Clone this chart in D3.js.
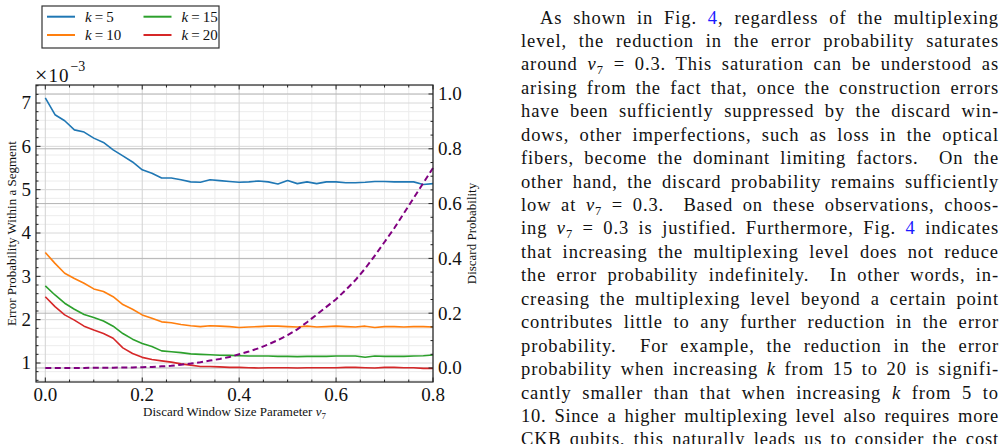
<!DOCTYPE html>
<html>
<head>
<meta charset="utf-8">
<script src="https://cdn.jsdelivr.net/npm/d3@7"></script>
<style>
  html, body { margin:0; padding:0; background:#fff; width:1005px; height:444px; overflow:hidden; }
  #chart { position:absolute; left:0; top:0; }
  #para { position:absolute; left:521px; top:6.5px; width:478px; font-family:"Liberation Serif", serif; font-size:18.5px; line-height:23.45px; color:#111; }
  #para div { text-align:justify; text-align-last:justify; white-space:nowrap; height:23.45px; }
  #para .first { text-indent:19px; }
  #para i { font-style:italic; }
  #para sub { font-size:12.5px; vertical-align:baseline; position:relative; top:4px; line-height:0; }
  #para .ref { color:#1a1aff; }
  #measure { position:absolute; left:0; top:500px; visibility:hidden; white-space:nowrap; font-family:"Liberation Serif", serif; font-size:18.5px; }
  #measure sub { font-size:12.5px; vertical-align:baseline; }
</style>
</head>
<body>
<svg id="chart" width="500" height="444"></svg>
<div id="para"></div>
<span id="measure"></span>
<script>
// ---- data (error probability values in units of 1e-3) ----
const xValues = [0.00,0.02,0.04,0.06,0.08,0.10,0.12,0.14,0.16,0.18,0.20,0.22,0.24,0.26,0.28,0.30,0.32,0.34,0.36,0.38,0.40,0.42,0.44,0.46,0.48,0.50,0.52,0.54,0.56,0.58,0.60,0.62,0.64,0.66,0.68,0.70,0.72,0.74,0.76,0.78,0.80];
const seriesLabels = ["k = 5", "k = 10", "k = 15", "k = 20"];
const errK5  = [7.12,6.73,6.59,6.38,6.33,6.19,6.09,5.92,5.78,5.64,5.46,5.38,5.27,5.27,5.23,5.18,5.17,5.23,5.21,5.19,5.17,5.18,5.20,5.18,5.13,5.21,5.14,5.18,5.14,5.18,5.18,5.16,5.16,5.17,5.19,5.19,5.18,5.18,5.18,5.12,5.14];
const errK10 = [3.55,3.30,3.07,2.95,2.84,2.71,2.65,2.53,2.35,2.24,2.11,2.03,1.95,1.93,1.89,1.86,1.84,1.86,1.85,1.84,1.82,1.83,1.84,1.85,1.85,1.84,1.83,1.85,1.83,1.84,1.85,1.84,1.83,1.85,1.82,1.84,1.84,1.83,1.84,1.84,1.83];
const errK15 = [2.78,2.57,2.38,2.24,2.12,2.05,1.97,1.85,1.68,1.55,1.45,1.38,1.28,1.26,1.24,1.21,1.20,1.19,1.18,1.177,1.169,1.162,1.162,1.162,1.154,1.154,1.146,1.154,1.154,1.154,1.162,1.162,1.162,1.131,1.162,1.154,1.154,1.154,1.162,1.169,1.185];
const errK20 = [2.53,2.30,2.11,1.99,1.85,1.76,1.68,1.57,1.35,1.22,1.13,1.08,1.05,1.02,0.98,0.95,0.92,0.92,0.91,0.90,0.90,0.892,0.885,0.892,0.892,0.892,0.885,0.892,0.892,0.892,0.892,0.900,0.900,0.892,0.885,0.900,0.900,0.892,0.892,0.877,0.877];
const discardProb = [0.000,0.000,0.000,0.000,0.000,0.001,0.001,0.001,0.002,0.002,0.003,0.004,0.006,0.008,0.012,0.016,0.021,0.027,0.033,0.040,0.050,0.060,0.072,0.086,0.102,0.120,0.141,0.167,0.195,0.223,0.251,0.285,0.321,0.363,0.410,0.460,0.510,0.565,0.620,0.675,0.730];
const seriesColors = ["#1f77b4","#ff7f0e","#2ca02c","#d62728"];
const xTicks = [0.0,0.2,0.4,0.6,0.8];
const yLeftTicks = [1,2,3,4,5,6,7];
const yRightTicks = [0.0,0.2,0.4,0.6,0.8,1.0];

const series = [errK5, errK10, errK15, errK20];

// ---- layout ----
const L = 36, R = 433, T = 85, B = 382;
const svg = d3.select("#chart");
const font = "'Liberation Serif', 'Times New Roman', serif";

const x = d3.scaleLinear().domain([-0.0192, 0.8]).range([L, R]);
const yL = d3.scaleLinear().domain([0.5615, 7.416]).range([B, T]);
const yR = d3.scaleLinear().domain([-0.0511, 1.0328]).range([B, T]);

const xMinor = d3.range(0, 0.8001, 0.05).filter(v => Math.abs(v*5 - Math.round(v*5)) > 1e-6);
const yLMinor = d3.range(0.6, 7.41, 0.2).filter(v => Math.abs(v - Math.round(v)) > 1e-6);
const yRMinor = d3.range(0, 1.031, 0.05).filter(v => Math.abs(v*5 - Math.round(v*5)) > 1e-6);

const g = svg.append("g");

// minor grids
g.selectAll(".gxm").data(xMinor).join("line")
  .attr("x1", d => x(d)).attr("x2", d => x(d)).attr("y1", T).attr("y2", B)
  .attr("stroke", "#ececec").attr("stroke-width", 1);
g.selectAll(".gylm").data(yLMinor).join("line")
  .attr("x1", L).attr("x2", R).attr("y1", d => yL(d)).attr("y2", d => yL(d))
  .attr("stroke", "#ececec").attr("stroke-width", 1);
// major grids
g.selectAll(".gx").data(xTicks).join("line")
  .attr("x1", d => x(d)).attr("x2", d => x(d)).attr("y1", T).attr("y2", B)
  .attr("stroke", "#d2d2d2").attr("stroke-width", 1);
g.selectAll(".gyl").data(yLeftTicks).join("line")
  .attr("x1", L).attr("x2", R).attr("y1", d => yL(d)).attr("y2", d => yL(d))
  .attr("stroke", "#d8d8d8").attr("stroke-width", 1);
g.selectAll(".gyr").data(yRightTicks).join("line")
  .attr("x1", L).attr("x2", R).attr("y1", d => yR(d)).attr("y2", d => yR(d))
  .attr("stroke", "#b4b4b4").attr("stroke-width", 1);

// series lines
const lineL = d3.line().x((d, i) => x(xValues[i])).y(d => yL(d));
series.forEach((s, k) => {
  g.append("path").datum(s).attr("d", lineL)
    .attr("fill", "none").attr("stroke", seriesColors[k]).attr("stroke-width", 1.6)
    .attr("stroke-linejoin", "round");
});
const lineR = d3.line().x((d, i) => x(xValues[i])).y(d => yR(d));
g.append("path").datum(discardProb).attr("d", lineR)
  .attr("fill", "none").attr("stroke", "#800080").attr("stroke-width", 2)
  .attr("stroke-dasharray", "6,3.5");

// frame
g.append("rect").attr("x", L).attr("y", T).attr("width", R - L).attr("height", B - T)
  .attr("fill", "none").attr("stroke", "#222").attr("stroke-width", 1.2);

// ticks (inward)
const tk = g.append("g").attr("stroke", "#222").attr("stroke-width", 1);
xTicks.forEach(v => {
  tk.append("line").attr("x1", x(v)).attr("x2", x(v)).attr("y1", B).attr("y2", B - 4.5);
  tk.append("line").attr("x1", x(v)).attr("x2", x(v)).attr("y1", T).attr("y2", T + 4.5);
});
xMinor.forEach(v => {
  tk.append("line").attr("x1", x(v)).attr("x2", x(v)).attr("y1", B).attr("y2", B - 2.5);
  tk.append("line").attr("x1", x(v)).attr("x2", x(v)).attr("y1", T).attr("y2", T + 2.5);
});
yLeftTicks.forEach(v => tk.append("line").attr("x1", L).attr("x2", L + 4.5).attr("y1", yL(v)).attr("y2", yL(v)));
yLMinor.forEach(v => tk.append("line").attr("x1", L).attr("x2", L + 2.5).attr("y1", yL(v)).attr("y2", yL(v)));
yRightTicks.forEach(v => tk.append("line").attr("x1", R).attr("x2", R - 4.5).attr("y1", yR(v)).attr("y2", yR(v)));
yRMinor.forEach(v => tk.append("line").attr("x1", R).attr("x2", R - 2.5).attr("y1", yR(v)).attr("y2", yR(v)));

// tick labels
const tl = g.append("g").attr("font-family", font).attr("font-size", 19).attr("fill", "#111");
xTicks.forEach(v => tl.append("text").attr("x", x(v)).attr("y", 401).attr("text-anchor", "middle").text(d3.format(".1f")(v)));
yLeftTicks.forEach(v => tl.append("text").attr("x", 31).attr("y", yL(v)).attr("dy", "0.34em").attr("text-anchor", "end").text(v));
yRightTicks.forEach(v => tl.append("text").attr("x", 438).attr("y", yR(v)).attr("dy", "0.34em").attr("text-anchor", "start").text(d3.format(".1f")(v)));

// offset text ×10^-3
const off = g.append("text").attr("font-family", font).attr("font-size", 19).attr("fill", "#111").attr("x", 35).attr("y", 82);
off.append("tspan").attr("font-size", 22).text("×");
off.append("tspan").attr("dx", 1).attr("letter-spacing", 1).text("10");
off.append("tspan").attr("font-size", 14).attr("dy", -11).attr("dx", 1).text("−3");

// axis labels
g.append("text").attr("font-family", font).attr("font-size", 13).attr("fill", "#111")
  .attr("text-anchor", "middle").attr("transform", `translate(16,${(T + B) / 2}) rotate(-90)`)
  .text("Error Probability Within a Segment");
g.append("text").attr("font-family", font).attr("font-size", 13).attr("fill", "#111")
  .attr("text-anchor", "middle").attr("transform", `translate(476,${(T + B) / 2}) rotate(-90)`)
  .text("Discard Probability");
const xl = g.append("text").attr("font-family", font).attr("font-size", 13).attr("fill", "#111")
  .attr("text-anchor", "middle").attr("x", (L + R) / 2).attr("y", 416);
xl.append("tspan").text("Discard Window Size Parameter ");
xl.append("tspan").attr("font-style", "italic").text("v");
xl.append("tspan").attr("font-size", 9).attr("dy", 3).text("7");

// legend
const lg = g.append("g");
lg.append("rect").attr("x", 42).attr("y", 6).attr("width", 177).attr("height", 42)
  .attr("fill", "#fff").attr("stroke", "#333").attr("stroke-width", 1.2);
const legPos = [[0,0],[0,1],[1,0],[1,1]]; // [col,row]
[0, 1, 2, 3].forEach((k, idx) => {
  const col = legPos[idx][0], row = legPos[idx][1];
  const lx = col === 0 ? 47 : 143.5;
  const ly = row === 0 ? 16.7 : 35;
  lg.append("line").attr("x1", lx).attr("x2", lx + 28).attr("y1", ly).attr("y2", ly)
    .attr("stroke", seriesColors[k]).attr("stroke-width", 2);
  const parts = seriesLabels[k].split(" = ");
  const t = lg.append("text").attr("font-family", font).attr("font-size", 15).attr("fill", "#111")
    .attr("x", lx + 38).attr("y", ly + 5);
  t.append("tspan").attr("font-style", "italic").text(parts[0]);
  t.append("tspan").text("\u2009=\u2009" + parts[1]);
});

// paragraph text on the right
const paraLines = [
  ["first", "As shown in Fig. <span class='ref'>4</span>, regardless of the multiplexing"],
  ["", "level, the reduction in the error probability saturates"],
  ["", "around <i>v</i><sub>7</sub> = 0.3. This saturation can be understood as"],
  ["", "arising from the fact that, once the construction errors"],
  ["", "have been sufficiently suppressed by the discard win-"],
  ["", "dows, other imperfections, such as loss in the optical"],
  ["", "fibers, become the dominant limiting factors. &nbsp;On the"],
  ["", "other hand, the discard probability remains sufficiently"],
  ["", "low at <i>v</i><sub>7</sub> = 0.3. &nbsp;Based on these observations, choos-"],
  ["", "ing <i>v</i><sub>7</sub> = 0.3 is justified. Furthermore, Fig. <span class='ref'>4</span> indicates"],
  ["", "that increasing the multiplexing level does not reduce"],
  ["", "the error probability indefinitely. &nbsp;In other words, in-"],
  ["", "creasing the multiplexing level beyond a certain point"],
  ["", "contributes little to any further reduction in the error"],
  ["", "probability. &nbsp;For example, the reduction in the error"],
  ["", "probability when increasing <i>k</i> from 15 to 20 is signifi-"],
  ["", "cantly smaller than that when increasing <i>k</i> from 5 to"],
  ["", "10. Since a higher multiplexing level also requires more"],
  ["", "CKB qubits, this naturally leads us to consider the cost"]
];
const meas = document.getElementById("measure");
d3.select("#para").selectAll("div").data(paraLines).join("div")
  .attr("class", d => d[0]).html(d => d[1])
  .each(function(d) {
    meas.innerHTML = d[1];
    const avail = 478 - (d[0] === "first" ? 19 : 0);
    const w = meas.getBoundingClientRect().width;
    const n = meas.textContent.length;
    let ls = Math.max(0, (avail - w) * 0.65 / n);
    ls = Math.min(ls, 0.9);
    this.style.letterSpacing = ls.toFixed(3) + "px";
  });
meas.innerHTML = "";
</script>
</body>
</html>
